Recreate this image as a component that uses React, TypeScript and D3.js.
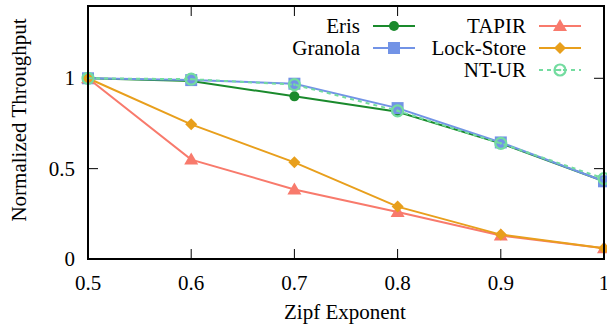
import React, { useEffect, useRef } from "react";
import * as d3 from "d3";

const zipf = [0.5, 0.6, 0.7, 0.8, 0.9, 1.0];
const eris = [1.0, 0.985, 0.9, 0.815, 0.64, 0.43];
const granola = [1.0, 0.99, 0.97, 0.835, 0.645, 0.43];
const tapir = [1.0, 0.55, 0.385, 0.26, 0.13, 0.06];
const lockStore = [1.0, 0.745, 0.535, 0.29, 0.135, 0.06];
const ntur = [1.0, 0.995, 0.965, 0.82, 0.64, 0.445];

const xTicks = [0.5, 0.6, 0.7, 0.8, 0.9, 1.0];
const xTickLabels = ["0.5", "0.6", "0.7", "0.8", "0.9", "1"];
const yTicks = [0, 0.5, 1];
const yTickLabels = ["0", "0.5", "1"];
const topTicks = [0.6, 0.7, 0.8];
const rightTicks = [0.5, 1];

type Series = { name: string; values: number[]; color: string; marker: string; dash?: string };
const series: Series[] = [
  { name: "Eris", values: eris, color: "#1a8a2c", marker: "circle" },
  { name: "Granola", values: granola, color: "#7293e6", marker: "square" },
  { name: "TAPIR", values: tapir, color: "#f87a6c", marker: "triangle" },
  { name: "Lock-Store", values: lockStore, color: "#e89f1c", marker: "diamond" },
  { name: "NT-UR", values: ntur, color: "#74dca0", marker: "ocircle", dash: "4,4" },
];
const legendCols = [
  ["Eris", "Granola"],
  ["TAPIR", "Lock-Store", "NT-UR"],
];

const W = 607, H = 329;
const L = 88, R = 604, T = 6, B = 259;
const FF = "Liberation Serif";
const FS = 21;

function Marker({ type, x, y, color }: { type: string; x: number; y: number; color: string }) {
  switch (type) {
    case "circle":
      return <circle cx={x} cy={y} r={5} fill={color} />;
    case "square":
      return <rect x={x - 6} y={y - 6} width={12} height={12} fill={color} />;
    case "triangle":
      return <path d={`M${x},${y - 7}L${x + 7},${y + 5}L${x - 7},${y + 5}Z`} fill={color} />;
    case "diamond":
      return <path d={`M${x},${y - 6}L${x + 6},${y}L${x},${y + 6}L${x - 6},${y}Z`} fill={color} />;
    case "ocircle":
      return (
        <g>
          <circle cx={x} cy={y} r={5.5} fill="none" stroke={color} strokeWidth={2.2} />
          <circle cx={x} cy={y} r={1.3} fill={color} />
        </g>
      );
  }
  return null;
}

export default function App() {
  const ref = useRef<SVGSVGElement>(null);
  const x = d3.scaleLinear().domain([0.5, 1.0]).range([L, R]);
  const y = d3.scaleLinear().domain([0, 1.4]).range([B, T]);
  const line = d3
    .line<number>()
    .x((_, i) => x(zipf[i]))
    .y((d) => y(d));

  useEffect(() => {
    if (ref.current) {
      d3.select(ref.current).selectAll("text").attr("font-family", FF).style("font-family", FF);
    }
  }, []);

  const legendX = [360, 526];
  const legendY = [26, 48, 70];

  return (
    <svg ref={ref} width={W} height={H} style={{ position: "absolute", left: 0, top: 0 }}>
      <rect width={W} height={H} fill="white" />
      {xTicks.map((t) => (
        <line key={"xb" + t} x1={x(t)} x2={x(t)} y1={B} y2={B - 10} stroke="black" strokeWidth={1} />
      ))}
      {topTicks.map((t) => (
        <line key={"xt" + t} x1={x(t)} x2={x(t)} y1={T} y2={T + 10} stroke="black" strokeWidth={1} />
      ))}
      {yTicks.map((t) => (
        <line key={"yl" + t} x1={L} x2={L + 10} y1={y(t)} y2={y(t)} stroke="black" strokeWidth={1} />
      ))}
      {rightTicks.map((t) => (
        <line key={"yr" + t} x1={R} x2={R - 10} y1={y(t)} y2={y(t)} stroke="black" strokeWidth={1} />
      ))}
      {xTicks.map((t, i) => (
        <text key={"xl" + t} x={x(t)} y={290} textAnchor="middle" fontFamily={FF} fontSize={FS}>
          {xTickLabels[i]}
        </text>
      ))}
      {yTicks.map((t, i) => (
        <text key={"ylb" + t} x={75} y={y(t) + 7} textAnchor="end" fontFamily={FF} fontSize={FS}>
          {yTickLabels[i]}
        </text>
      ))}
      <text x={345} y={319} textAnchor="middle" fontFamily={FF} fontSize={FS}>
        Zipf Exponent
      </text>
      <text transform={`translate(26,120) rotate(-90)`} textAnchor="middle" fontFamily={FF} fontSize={FS}>
        Normalized Throughput
      </text>
      {legendCols.map((col, ci) =>
        col.map((name, ri) => {
          const s = series.find((d) => d.name === name)!;
          const tx = legendX[ci];
          const ly = legendY[ri];
          return (
            <g key={name}>
              <text x={tx} y={ly + 7} textAnchor="end" fontFamily={FF} fontSize={FS}>
                {name}
              </text>
              <line
                x1={tx + 13}
                x2={tx + 55}
                y1={ly}
                y2={ly}
                stroke={s.color}
                strokeWidth={2}
                strokeDasharray={s.dash}
              />
              <Marker type={s.marker} x={tx + 34} y={ly} color={s.color} />
            </g>
          );
        })
      )}
      {series.map((s) => (
        <g key={s.name}>
          <path d={line(s.values)!} fill="none" stroke={s.color} strokeWidth={2} strokeDasharray={s.dash} />
          {s.values.map((v, i) => (
            <Marker key={i} type={s.marker} x={x(zipf[i])} y={y(v)} color={s.color} />
          ))}
        </g>
      ))}
      <rect x={L} y={T} width={R - L} height={B - T} fill="none" stroke="black" strokeWidth={2} />
    </svg>
  );
}
